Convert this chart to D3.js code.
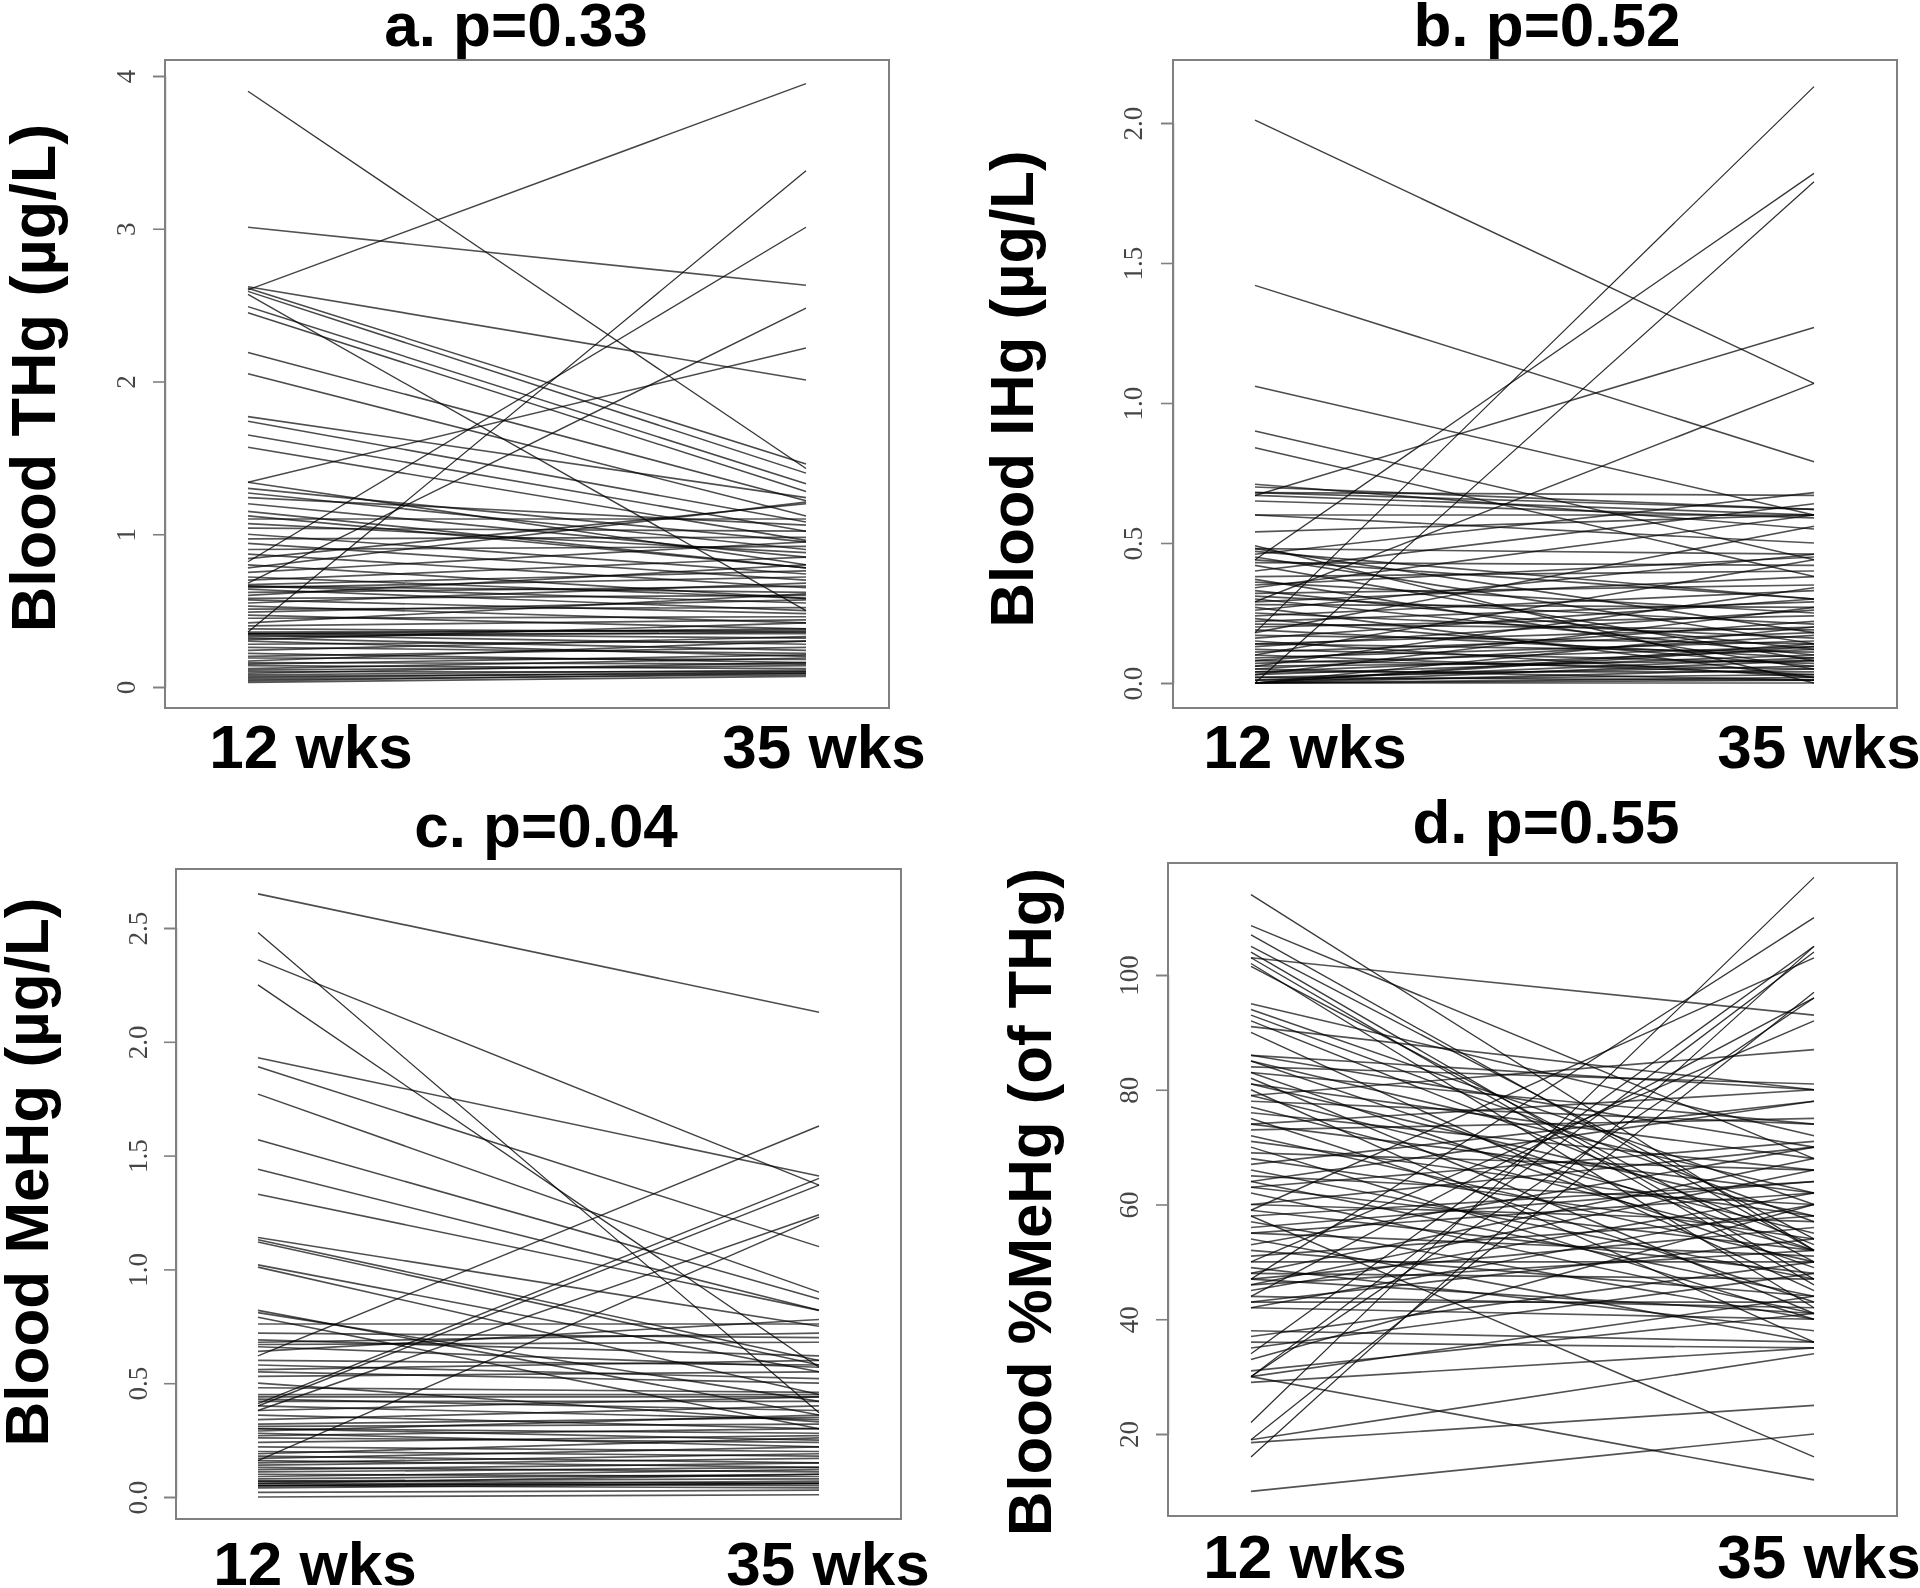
<!DOCTYPE html>
<html>
<head>
<meta charset="utf-8">
<title>Blood mercury at 12 and 35 weeks</title>
<script src="https://cdn.jsdelivr.net/npm/d3@7"></script>
<style>
html,body{margin:0;padding:0;background:#fff}
svg{display:block}
text{font-family:"Liberation Sans",Arial,sans-serif;font-weight:700;fill:#000}
.tick text{font-family:"Liberation Serif","Times New Roman",serif;font-weight:400;fill:#444;font-size:27px}
.tick line,.domain{stroke:#808080}
</style>
</head>
<body>
<svg id="chart" width="1920" height="1588"></svg>
<script>
const timepoints = ["12 wks", "35 wks"];

const a12 = [3.90,3.01,2.60,2.62,2.61,2.59,2.57,2.49,2.45,2.19,
  2.05,1.77,1.74,1.65,1.57,1.34,1.34,1.30,1.27,1.24,
  1.20,1.15,1.12,1.10,1.07,1.04,1.00,0.97,0.94,0.90,
  0.87,0.84,0.82,0.80,0.78,0.75,0.72,0.70,0.68,0.67,
  0.66,0.66,0.65,0.64,0.62,0.60,0.58,0.57,0.55,0.53,
  0.51,0.49,0.47,0.45,0.42,0.40,0.38,0.36,0.36,0.35,
  0.35,0.35,0.34,0.33,0.32,0.31,0.30,0.28,0.26,0.24,
  0.22,0.20,0.19,0.17,0.16,0.15,0.14,0.12,0.11,0.10,
  0.09,0.08,0.07,0.06,0.05,0.04,0.03];
const a35 = [1.43,2.63,3.95,2.01,1.46,1.40,0.50,1.33,1.28,1.22,
  1.12,1.24,1.08,1.02,0.96,0.80,2.22,0.95,0.90,1.06,
  0.85,0.78,0.78,1.10,0.88,1.02,0.74,0.98,0.70,0.92,
  0.65,1.20,3.01,0.58,1.21,0.95,0.58,0.85,2.48,0.76,
  0.62,0.55,0.72,0.50,0.66,0.80,0.60,0.48,0.68,0.42,
  0.52,0.57,0.38,0.46,0.61,0.44,0.36,3.38,0.37,0.38,
  0.35,0.32,0.28,0.36,0.24,0.42,0.20,0.30,0.22,0.33,
  0.16,0.26,0.18,0.30,0.15,0.21,0.12,0.19,0.14,0.10,
  0.16,0.11,0.09,0.10,0.08,0.09,0.07];

const b12 = [2.01,1.42,1.06,0.90,0.84,0.18,0.44,0.00,0.67,0.29,
  0.71,0.70,0.68,0.68,0.67,0.65,0.60,0.60,0.54,0.49,
  0.48,0.48,0.47,0.46,0.45,0.44,0.43,0.42,0.40,0.38,
  0.37,0.36,0.35,0.34,0.33,0.32,0.31,0.30,0.29,0.28,
  0.27,0.26,0.25,0.24,0.23,0.22,0.21,0.20,0.19,0.18,
  0.17,0.16,0.15,0.14,0.14,0.13,0.12,0.11,0.10,0.10,
  0.09,0.08,0.08,0.07,0.06,0.06,0.05,0.05,0.04,0.04,
  0.03,0.03,0.02,0.02,0.01,0.01,0.00,0.00,0.00,0.00,
  0.00,0.00,0.00,0.00];
const b35 = [1.07,0.79,0.60,0.44,0.38,2.13,1.82,1.79,1.27,1.07,
  0.55,0.62,0.67,0.62,0.60,0.59,0.60,0.50,0.60,0.00,
  0.18,0.46,0.30,0.68,0.14,0.30,0.42,0.08,0.64,0.40,
  0.05,0.25,0.45,0.60,0.12,0.35,0.21,0.10,0.38,0.27,
  0.02,0.46,0.16,0.33,0.06,0.29,0.19,0.24,0.09,0.56,
  0.14,0.30,0.02,0.20,0.11,0.26,0.07,0.18,0.44,0.03,
  0.15,0.22,0.05,0.13,0.34,0.08,0.17,0.01,0.12,0.04,
  0.10,0.27,0.06,0.01,0.09,0.03,0.14,0.13,0.20,0.08,
  0.05,0.01,0.00,0.02];

const c12 = [2.65,2.48,2.36,2.25,1.93,1.89,1.77,1.57,1.44,1.33,
  1.14,1.13,1.12,1.02,1.01,0.82,0.81,0.79,0.76,0.72,
  0.69,0.67,0.62,0.60,0.58,0.56,0.55,0.53,0.50,0.48,
  0.45,0.43,0.42,0.41,0.40,0.40,0.38,0.38,0.36,0.34,
  0.32,0.31,0.30,0.30,0.29,0.28,0.27,0.26,0.24,0.22,
  0.20,0.19,0.18,0.17,0.16,0.16,0.15,0.14,0.13,0.12,
  0.11,0.10,0.09,0.08,0.07,0.07,0.06,0.06,0.05,0.05,
  0.05,0.04,0.02,0.00,0.44,0.68,0.66,0.64];
const c35 = [2.13,0.37,1.37,0.57,1.41,1.10,0.90,0.87,0.82,0.82,
  0.75,0.60,0.58,0.55,0.45,0.36,0.42,0.30,0.76,0.70,
  0.62,0.68,1.63,0.58,0.52,0.60,0.50,0.55,0.33,0.46,
  0.45,0.38,0.42,1.40,1.37,0.34,1.24,0.44,0.30,0.40,
  0.35,0.32,0.25,0.28,0.36,0.22,0.30,0.24,0.27,0.20,
  0.18,0.26,0.15,0.22,1.23,0.13,0.19,0.17,0.11,0.15,
  0.13,0.09,0.12,0.10,0.08,0.06,0.10,0.05,0.07,0.06,
  0.04,0.06,0.03,0.01,0.44,0.72,0.57,0.78];

const d12 = [114,108.6,107,105,104,103,103,102,101.5,95,
  94,93,92,91,90,86,86,85,85,84,
  83,83,82,81,81,80,79,79,78,77,
  76,75,74,74,73,72,71,70,69,68,
  67,66,65,64,64,63,63,62,60,60,
  59,59,58,58,57,56,55,55,54,53,
  52,51,50,50,49,48,48,47,47,47,
  46,46,45,44,44,43,43,42,42,38,
  37,36,35,34,33,31,30,30,30,30,
  29,22,19,18.5,19,16,10];
const d35 = [52,68,52,54,47,93,46,42,50,72,
  60,57,53,80,45,80,70,62,52,81,
  49,74,41,68,58,36,87,55,74,52,
  66,43,80,62,75,50,58,40,66,54,
  78,47,60,44,78,71,52,41,57,70,
  103,48,16,64,40,64,51,62,36,70,
  44,58,92,50,38,68,47,110,56,41,
  66,52,62,96,42,54,43,60,40,36,
  50,35,48,105,60,41,12,104,96,44,
  35,117,34,25,97,105,20];

const panels = [
  {title:"a. p=0.33", label:"Blood THg (µg/L)", start:a12, end:a35, ticks:[0,1,2,3,4], fmt:"d",
   box:[165,889,60,708], dom:[0,4], rng:[687,76], px:[248,806],
   tx:516, ty:46, lx:55, ly:378, xl:[311,824], xb:768, off:30, ls:63},
  {title:"b. p=0.52", label:"Blood IHg (µg/L)", start:b12, end:b35, ticks:[0,0.5,1,1.5,2], fmt:".1f",
   box:[1173,1897,60,708], dom:[0,2], rng:[683,123], px:[1255,1814],
   tx:1547, ty:46, lx:1033, ly:389, xl:[1305,1819], xb:768, off:31, ls:61.6},
  {title:"c. p=0.04", label:"Blood MeHg (µg/L)", start:c12, end:c35, ticks:[0,0.5,1,1.5,2,2.5], fmt:".1f",
   box:[176,901,869,1519], dom:[0,2.5], rng:[1497,928], px:[258,819],
   tx:546, ty:847, lx:48, ly:1172, xl:[315,828], xb:1585, off:29, ls:62},
  {title:"d. p=0.55", label:"Blood %MeHg (of THg)", start:d12, end:d35, ticks:[20,40,60,80,100], fmt:"d",
   box:[1168,1897,863,1516], dom:[20,100], rng:[1434,975], px:[1251,1814],
   tx:1546, ty:843, lx:1051, ly:1202, xl:[1305,1819], xb:1578, off:30, ls:61.7}
];

const svg = d3.select("#chart");
svg.append("defs").append("filter").attr("id","soft")
  .attr("x","-2%").attr("y","-2%").attr("width","104%").attr("height","104%")
  .append("feGaussianBlur").attr("stdDeviation","0.5 0.7");
const root = svg.append("g").attr("filter","url(#soft)");

panels.forEach(p => {
  const g = root.append("g");
  const x = d3.scalePoint().domain(timepoints).range(p.px);
  const y = d3.scaleLinear().domain(p.dom).range(p.rng);
  const pairs = d3.zip(p.start, p.end);

  g.append("rect")
    .attr("x",p.box[0]).attr("y",p.box[2])
    .attr("width",p.box[1]-p.box[0]).attr("height",p.box[3]-p.box[2])
    .attr("fill","none").attr("stroke","#808080").attr("stroke-width",2);

  g.append("g").selectAll("line").data(pairs).join("line")
    .attr("x1",x(timepoints[0])).attr("x2",x(timepoints[1]))
    .attr("y1",d=>y(d[0])).attr("y2",d=>y(d[1]))
    .attr("stroke","#000")
    .each(function(d){
      const s = Math.min(1, Math.abs(y(d[1])-y(d[0]))/(x(timepoints[1])-x(timepoints[0])));
      d3.select(this)
        .attr("stroke-width", 1.7-0.6*s)
        .attr("stroke-opacity", 0.66+0.2*s);
    });

  const axis = d3.axisLeft(y).tickValues(p.ticks).tickFormat(d3.format(p.fmt)).tickSize(12);
  const ga = g.append("g").attr("transform",`translate(${p.box[0]},0)`).call(axis);
  ga.select(".domain").attr("stroke-width",1.4);
  ga.selectAll(".tick line").attr("stroke-width",1.6);
  ga.selectAll(".tick text")
    .attr("transform","rotate(-90)")
    .attr("text-anchor","middle")
    .attr("x",0).attr("y",-p.off).attr("dy",0);

  g.append("text").attr("x",p.tx).attr("y",p.ty)
    .attr("text-anchor","middle").attr("font-size",62).text(p.title);

  g.append("text")
    .attr("transform",`translate(${p.lx},${p.ly}) rotate(-90)`)
    .attr("text-anchor","middle").attr("font-size",p.ls).text(p.label);

  timepoints.forEach((t,i) => {
    g.append("text").attr("x",p.xl[i]).attr("y",p.xb)
      .attr("text-anchor","middle").attr("font-size",62).text(t);
  });
});
</script>
</body>
</html>
